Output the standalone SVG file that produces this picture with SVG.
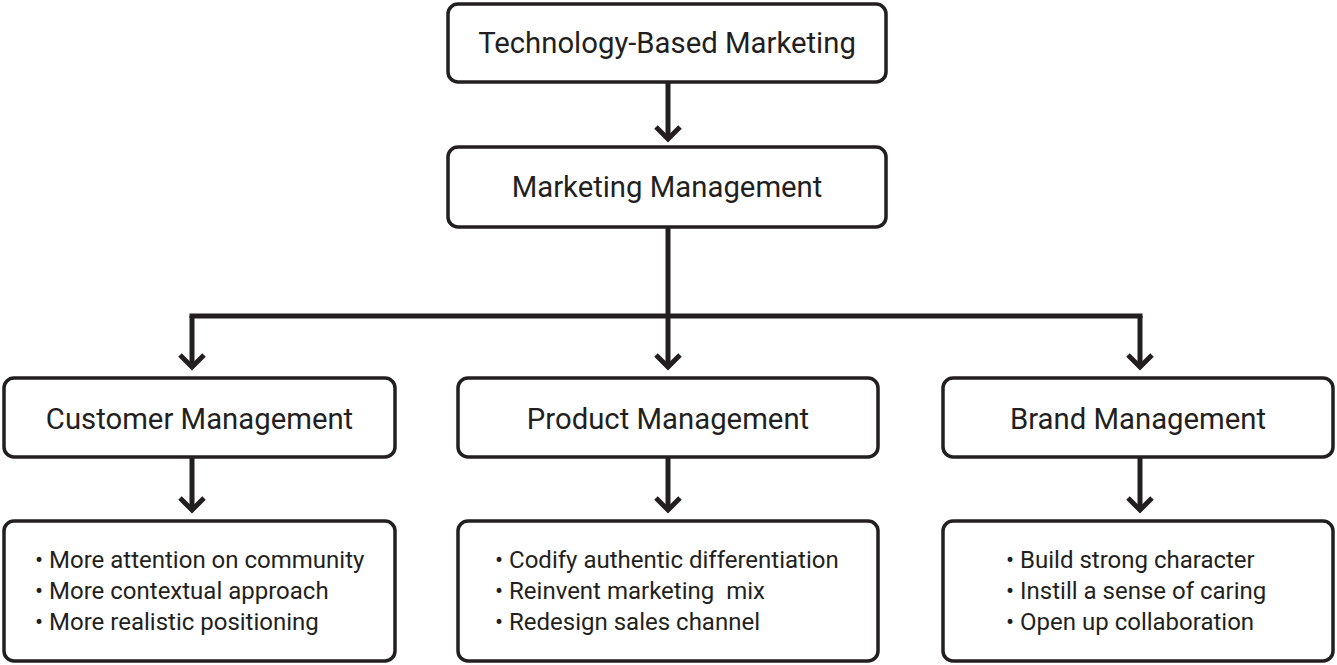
<svg xmlns="http://www.w3.org/2000/svg" width="1337" height="665" viewBox="0 0 1337 665">
<defs>
<style>
.box{fill:#fff;stroke:#231f20;stroke-width:3.5}
.t{font-family:Roboto,"Liberation Sans",sans-serif;fill:#231f20;text-anchor:middle}
.h{font-size:29.3px}
.b{font-size:24px;text-anchor:start}
.c{fill:none;stroke:#231f20;stroke-width:5;marker-end:url(#chev)}
.l{fill:none;stroke:#231f20;stroke-width:5}
</style>
<marker id="chev" markerUnits="userSpaceOnUse" viewBox="-20 -20 40 40" markerWidth="40" markerHeight="40" refX="0" refY="0" orient="auto">
<path d="M-12,-12 L0,0 L-12,12" fill="none" stroke="#231f20" stroke-width="5"/>
</marker>
</defs>
<rect width="1337" height="665" fill="#fff"/>
<g id="connectors">
<path class="c" d="M668,82 V139"/>
<path class="c" d="M668,227 V367"/>
<path class="l" d="M192,318 V316 H1140 V318"/>
<path class="c" d="M192,316 V367"/>
<path class="c" d="M1140,316 V367"/>
<path class="c" d="M192,457 V510"/>
<path class="c" d="M668,457 V510"/>
<path class="c" d="M1140,457 V510"/>
</g>
<g id="n-tech"><rect class="box" x="448" y="4" width="438" height="78" rx="10"/><text class="t h" x="667" y="53">Technology-Based Marketing</text></g>
<g id="n-mm"><rect class="box" x="448" y="147" width="438" height="80" rx="10"/><text class="t h" x="667" y="197">Marketing Management</text></g>
<g id="n-cm"><rect class="box" x="4" y="378" width="391" height="79" rx="10"/><text class="t h" x="199.5" y="429">Customer Management</text></g>
<g id="n-pm"><rect class="box" x="458" y="378" width="420" height="79" rx="10"/><text class="t h" x="668" y="429">Product Management</text></g>
<g id="n-bm"><rect class="box" x="943" y="378" width="390" height="79" rx="10"/><text class="t h" x="1138" y="429">Brand Management</text></g>
<g id="n-cm-list"><rect class="box" x="4" y="521" width="391" height="140" rx="10"/>
<text class="t b" x="35" y="568">• More attention on community</text>
<text class="t b" x="35" y="599">• More contextual approach</text>
<text class="t b" x="35" y="630">• More realistic positioning</text></g>
<g id="n-pm-list"><rect class="box" x="458" y="521" width="420" height="140" rx="10"/>
<text class="t b" x="495" y="568">• Codify authentic differentiation</text>
<text class="t b" x="495" y="599" xml:space="preserve">• Reinvent marketing  mix</text>
<text class="t b" x="495" y="630">• Redesign sales channel</text></g>
<g id="n-bm-list"><rect class="box" x="943" y="521" width="390" height="140" rx="10"/>
<text class="t b" x="1006" y="568">• Build strong character</text>
<text class="t b" x="1006" y="599">• Instill a sense of caring</text>
<text class="t b" x="1006" y="630">• Open up collaboration</text></g>
</svg>
